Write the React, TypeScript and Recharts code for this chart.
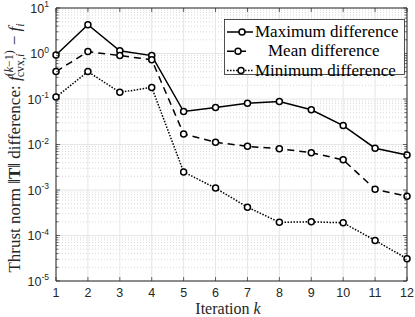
import React from 'react';
import { LineChart, Line, XAxis, YAxis, CartesianGrid, ReferenceLine, Legend } from 'recharts';

const iterations = [1, 2, 3, 4, 5, 6, 7, 8, 9, 10, 11, 12];
const maxDiff = [0.93, 4.3, 1.15, 0.9, 0.053, 0.065, 0.081, 0.088, 0.058, 0.026, 0.0083, 0.0059];
const meanDiff = [0.4, 1.1, 0.9, 0.73, 0.017, 0.0112, 0.0091, 0.0081, 0.0066, 0.0046, 0.00104, 0.00073];
const minDiff = [0.11, 0.4, 0.14, 0.18, 0.0025, 0.0011, 0.00042, 0.000195, 0.0002, 0.00019, 0.000078, 0.000031];

const decadeTicks = [1e-5, 1e-4, 1e-3, 1e-2, 1e-1, 1, 10];
const minorTicks = decadeTicks.slice(0, -1).flatMap((d) => [2, 3, 4, 5, 6, 7, 8, 9].map((m) => m * d));
const yTicks = [...decadeTicks, ...minorTicks].sort((a, b) => a - b);

const data = iterations.map((k, i) => ({ k, max: maxDiff[i], mean: meanDiff[i], min: minDiff[i] }));

// plot box (px), matching the reference
const LEFT = 56;
const RIGHT = 407;
const TOP = 8;
const BOTTOM = 281;
const AXIS = '#262626';
const SERIF = 'Liberation Serif';
const SANS = 'Liberation Sans';

const series = [
  { key: 'max', name: 'Maximum difference', dash: undefined, lineEnd: 29, cx: 18, textX: 31 },
  { key: 'mean', name: 'Mean difference', dash: '7 5', lineEnd: 24, cx: 14, textX: 44 },
  { key: 'min', name: 'Minimum difference', dash: '1.5 1.5', lineEnd: 29, cx: 17, textX: 31 },
];

const isDecade = (v: number) => Math.abs(Math.log10(v) - Math.round(Math.log10(v))) < 1e-6;

const YTick = (props: any) => {
  const { y, payload } = props;
  const v = payload.value;
  const major = isDecade(v);
  const len = major ? 4 : 2.5;
  const e = Math.round(Math.log10(v));
  return (
    <g>
      <line x1={LEFT} x2={LEFT + len} y1={y} y2={y} stroke={AXIS} strokeWidth={0.7} />
      <line x1={RIGHT} x2={RIGHT - len} y1={y} y2={y} stroke={AXIS} strokeWidth={0.7} />
      {major && (
        <text x={49} y={y + 4.5} textAnchor="end" fontFamily={SANS} fontSize={12.5} fill={AXIS}>
          10<tspan dy={-5.5} fontSize={8.5}>{e}</tspan>
        </text>
      )}
    </g>
  );
};

const XTick = (props: any) => {
  const { x, payload } = props;
  return (
    <g>
      <line x1={x} x2={x} y1={BOTTOM} y2={BOTTOM - 4} stroke={AXIS} strokeWidth={0.7} />
      <line x1={x} x2={x} y1={TOP} y2={TOP + 4} stroke={AXIS} strokeWidth={0.7} />
      <text x={x} y={297} textAnchor="middle" fontFamily={SANS} fontSize={12.5} fill={AXIS}>
        {payload.value}
      </text>
    </g>
  );
};

const YLabel = () => (
  <text transform="rotate(-90)" x={-148} y={20} textAnchor="middle" fontFamily={SERIF} fontSize={17} fill={AXIS}>
    Thrust norm ‖<tspan fontWeight="bold">T</tspan>‖ difference:{' '}
    <tspan fontStyle="italic">f</tspan>
    <tspan dy={-7} fontSize={12}>
      (<tspan fontStyle="italic">k</tspan>−1)
    </tspan>
    <tspan dx={-27} dy={11} fontSize={12}>
      cvx,<tspan fontStyle="italic">i</tspan>
    </tspan>
    <tspan dx={4} dy={-4}> − </tspan>
    <tspan fontStyle="italic">f</tspan>
    <tspan dy={4} fontSize={12} fontStyle="italic">i</tspan>
  </text>
);

const XLabel = () => (
  <text x={228} y={314} textAnchor="middle" fontFamily={SERIF} fontSize={16} fill={AXIS}>
    Iteration <tspan fontStyle="italic">k</tspan>
  </text>
);

const LegendBox = () => (
  <svg width={182} height={64} style={{ display: 'block', overflow: 'visible' }}>
    <rect x={0.5} y={0.5} width={180} height={55} fill="#fff" stroke={AXIS} strokeWidth={0.8} />
    {series.map((s, i) => {
      const cy = 13 + i * 19.3;
      return (
        <g key={s.key}>
          <line x1={3} x2={s.lineEnd} y1={cy} y2={cy} stroke="#000" strokeWidth={1.5} strokeDasharray={s.dash} />
          <circle cx={s.cx} cy={cy} r={3} fill="#fff" stroke="#000" strokeWidth={1.5} />
          <text x={s.textX} y={cy + 5} fontFamily={SERIF} fontSize={17} fill="#000">
            {s.name}
          </text>
        </g>
      );
    })}
  </svg>
);

const makeDot = (key: string) => (p: any) => (
  <circle key={`${key}-${p.index}`} cx={p.cx} cy={p.cy} r={3} fill="#fff" stroke="#000" strokeWidth={1.5} />
);

export default function App() {
  return (
    <div style={{ position: 'absolute', left: 0, top: 0, width: 415, height: 317, background: '#fff' }}>
      <LineChart width={415} height={317} data={data} margin={{ top: TOP, right: 415 - RIGHT, left: 0, bottom: 0 }}>
        <CartesianGrid horizontalValues={minorTicks} vertical={false} stroke="#d9d9d9" strokeDasharray="1 2" />
        <CartesianGrid horizontalValues={decadeTicks} stroke="#e6e6e6" />
        <XAxis
          dataKey="k"
          type="number"
          domain={[1, 12]}
          ticks={iterations}
          interval={0}
          height={317 - BOTTOM}
          tickLine={false}
          stroke={AXIS}
          tick={<XTick />}
          label={<XLabel />}
        />
        <YAxis
          scale="log"
          type="number"
          domain={[1e-5, 10]}
          ticks={yTicks}
          interval={0}
          width={LEFT}
          tickLine={false}
          allowDataOverflow
          stroke={AXIS}
          tick={<YTick />}
          label={<YLabel />}
        />
        <ReferenceLine y={10} stroke={AXIS} />
        <ReferenceLine x={12} stroke={AXIS} />
        {series.map((s) => (
          <Line
            key={s.key}
            dataKey={s.key}
            name={s.name}
            stroke="#000"
            strokeWidth={1.5}
            strokeDasharray={s.dash}
            dot={makeDot(s.key)}
            isAnimationActive={false}
          />
        ))}
        <Legend
          layout="vertical"
          align="center"
          verticalAlign="middle"
          wrapperStyle={{ position: 'absolute', left: 224, top: 19, width: 182, height: 64 }}
          content={<LegendBox />}
        />
      </LineChart>
    </div>
  );
}
